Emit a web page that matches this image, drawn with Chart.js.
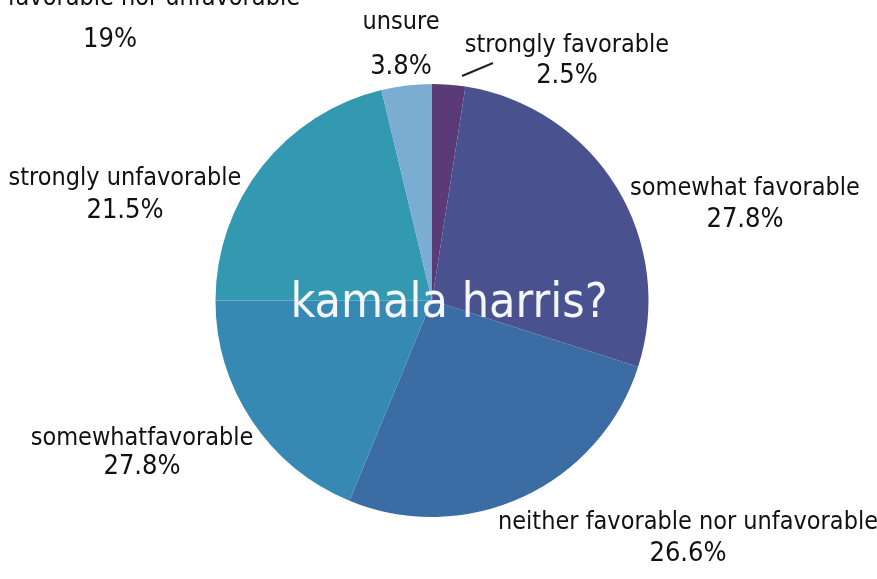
<!DOCTYPE html>
<html>
<head>
<meta charset="utf-8">
<script src="https://cdn.jsdelivr.net/npm/chart.js@4.4.1/dist/chart.umd.min.js"></script>
<style>
  html, body { margin: 0; padding: 0; background: #ffffff; }
  #wrap { width: 877px; height: 579px; position: relative; }
</style>
</head>
<body>
<div id="wrap"><canvas id="harrisPie" width="877" height="579"></canvas></div>
<script>
// slices, clockwise from 12 o'clock
const sliceNames = ['strongly favorable', 'somewhat favorable', 'neither favorable nor unfavorable',
                    'somewhat unfavorable', 'strongly unfavorable', 'unsure'];
const sliceValues = [2.5, 27.8, 26.6, 19, 21.5, 3.8];
const sliceColors = ['#5a3b78', '#49518f', '#3c6ca4', '#3689b2', '#3399b1', '#7badd3'];

// caption text as printed on the sheet
const captionLines = [
    ['strongly favorable', '2.5%'],
    ['somewhat favorable', '27.8%'],
    ['neither favorable nor unfavorable', '26.6%'],
    ['somewhatfavorable', '27.8%'],
    ['strongly unfavorable', '21.5%'],
    ['unsure', '3.8%'],
    ['neither favorable nor unfavorable', '19%']
];
const centerTitle = 'kamala harris?';

const FONT = '"Liberation Sans Narrow", "DejaVu Sans Condensed", sans-serif';

// where each caption sits (x, first-line y, second-line y)
const captionSpots = [
    [567, 45, 76],
    [745, 188, 220],
    [688, 522, 554],
    [142, 438, 467],
    [125, 178, 211],
    [401, 22, 67],
    [110, -2, 40]
];

const handLabels = {
    id: 'handLabels',
    afterDatasetsDraw(chart) {
        const ctx = chart.ctx;
        const arc = chart.getDatasetMeta(0).data[0];
        ctx.save();
        ctx.textAlign = 'center';
        ctx.textBaseline = 'middle';

        // big title across the middle of the pie
        ctx.fillStyle = '#f4f6fb';
        ctx.font = '48px ' + FONT;
        ctx.fillText(centerTitle, arc.x + 17, arc.y + 4);

        ctx.fillStyle = '#111111';
        captionLines.forEach((lines, i) => {
            const [x, y1, y2] = captionSpots[i];
            ctx.font = '25px ' + FONT;
            ctx.fillText(lines[0], x, y1);
            ctx.font = '27px ' + FONT;
            ctx.fillText(lines[1], x, y2);
        });

        // little pointer stroke for the thin slice
        ctx.strokeStyle = '#222222';
        ctx.lineWidth = 2;
        ctx.beginPath();
        ctx.moveTo(462, 76);
        ctx.lineTo(493, 63);
        ctx.stroke();
        ctx.restore();
    }
};

new Chart(document.getElementById('harrisPie'), {
    type: 'pie',
    data: {
        labels: sliceNames,
        datasets: [{
            data: sliceValues,
            backgroundColor: sliceColors,
            borderWidth: 0
        }]
    },
    options: {
        responsive: false,
        animation: false,
        layout: { padding: { top: 84, bottom: 62, left: 200, right: 213 } },
        plugins: {
            legend: { display: false },
            tooltip: { enabled: false }
        }
    },
    plugins: [handLabels]
});
</script>
</body>
</html>
